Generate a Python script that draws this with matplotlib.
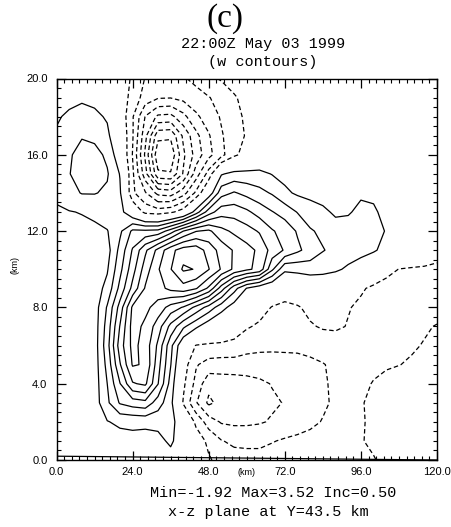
import numpy as np
import matplotlib
matplotlib.use("Agg")
import matplotlib.pyplot as plt
from matplotlib.ticker import MultipleLocator, FormatStrFormatter

# ---------------- data ----------------
x_km = [0, 4, 8, 12, 16, 20, 24, 28, 32, 36, 40, 44, 48, 52, 56, 60,
        64, 68, 72, 76, 80, 84, 88, 92, 96, 100, 104, 108, 112, 116, 120]
z_km = list(range(0, 21))

# w on the x-z plane, one list per height (in contour-level units)
w_z00 = [0.2, 0.2, 0.2, 0.2, 0.2, 0.3, 0.4, 0.5, 0.5, 0.55, 0.2, -0.3, -0.9, -1.3, -1.6, -1.7, -1.7, -1.6, -1.5, -1.45, -1.4, -1.35, -1.3, -1.2, -1.1, -1.05, -0.8, -0.6, -0.5, -0.4, -0.3]
w_z01 = [0.3, 0.35, 0.4, 0.4, 0.5, 0.6, 0.75, 0.6, 0.7, 1.2, 0.3, -0.5, -1.2, -1.95, -2.2, -2.2, -2.2, -2.05, -1.9, -1.8, -1.7, -1.55, -1.4, -1.25, -1.05, -0.85, -0.7, -0.55, -0.45, -0.35, -0.3]
w_z02 = [0.3, 0.4, 0.45, 0.5, 0.95, 1.2, 1.2, 1.25, 1.3, 1.4, 0.2, -1.2, -2.5, -3.1, -3.2, -3.2, -3.1, -2.9, -2.6, -2.4, -2.2, -1.95, -1.7, -1.45, -1.05, -0.9, -0.75, -0.6, -0.5, -0.4, -0.35]
w_z03 = [0.3, 0.4, 0.45, 0.5, 1.8, 3.1, 3.5, 3.7, 2.5, 1.3, -1.1, -2.9, -4.2, -3.7, -3.5, -3.4, -3.3, -3.15, -2.95, -2.7, -2.4, -2.15, -1.85, -1.55, -1.05, -0.85, -0.7, -0.6, -0.5, -0.45, -0.4]
w_z04 = [0.3, 0.4, 0.45, 0.5, 2.0, 3.95, 5.9, 6.2, 4.05, 1.6, -0.8, -2.3, -3.7, -3.5, -3.45, -3.35, -3.2, -2.95, -2.75, -2.55, -2.35, -2.1, -1.85, -1.5, -1.2, -0.95, -0.75, -0.6, -0.5, -0.45, -0.4]
w_z05 = [0.3, 0.4, 0.45, 0.5, 2.3, 4.9, 7.1, 6.9, 4.4, 2.05, -0.5, -1.9, -2.4, -2.5, -2.5, -2.5, -2.45, -2.4, -2.35, -2.3, -2.2, -2.05, -1.8, -1.55, -1.35, -1.2, -1.1, -1.02, -0.9, -0.8, -0.75]
w_z06 = [0.3, 0.4, 0.45, 0.5, 2.6, 5.5, 7.3, 6.6, 4.8, 2.3, 0.05, -1.05, -1.15, -1.15, -1.2, -1.6, -1.75, -1.8, -1.8, -1.8, -1.7, -1.55, -1.5, -1.45, -1.4, -1.35, -1.3, -1.2, -1.1, -0.95, -0.85]
w_z07 = [0.3, 0.4, 0.45, 0.5, 2.4, 5.05, 7.4, 6.8, 5.5, 3.7, 2.2, 1.2, 0.3, -0.2, -0.6, -0.9, -1.15, -1.3, -1.35, -1.3, -1.1, -0.9, -0.85, -1.05, -1.2, -1.3, -1.3, -1.25, -1.2, -1.1, -0.95]
w_z08 = [0.3, 0.4, 0.45, 0.5, 2.1, 4.4, 7.2, 7.25, 6.6, 5.6, 4.9, 3.7, 2.6, 1.4, 0.5, -0.1, -0.6, -1.05, -1.3, -1.1, -0.75, -0.55, -0.7, -0.95, -1.15, -1.3, -1.4, -1.45, -1.45, -1.4, -1.35]
w_z09 = [0.35, 0.4, 0.45, 0.5, 1.3, 3.3, 5.3, 7.1, 7.6, 8.3, 8.6, 8.1, 6.8, 4.5, 2.4, 0.95, 0.3, -0.1, -0.3, -0.2, -0.15, -0.1, -0.3, -0.6, -0.9, -1.15, -1.35, -1.45, -1.5, -1.5, -1.45]
w_z10 = [0.4, 0.45, 0.5, 0.55, 0.9, 2.7, 4.6, 6.5, 7.9, 8.95, 10.15, 9.95, 9.05, 7.9, 6.8, 6.2, 5.7, 3.2, 1.2, 1.3, 1.5, 1.4, 1.2, 0.8, 0.3, -0.3, -0.7, -1.02, -1.1, -1.15, -1.3]
w_z11 = [0.5, 0.5, 0.5, 0.6, 0.6, 2.3, 4.1, 5.8, 7.3, 8.7, 9.5, 9.6, 8.6, 7.6, 6.9, 6.35, 5.8, 4.6, 3.9, 3.2, 2.6, 2.05, 1.75, 1.6, 1.45, 1.15, 0.6, 0.3, 0.02, -0.2, -0.4]
w_z12 = [0.6, 0.6, 0.7, 0.75, 0.95, 1.8, 3.2, 3.2, 3.3, 4.5, 6.0, 6.95, 7.2, 6.3, 5.8, 5.4, 4.9, 4.1, 3.6, 2.9, 2.1, 1.8, 1.4, 1.45, 1.55, 1.3, 0.95, 0.5, 0.3, 0.2, 0.1]
w_z13 = [0.8, 0.95, 1.05, 1.25, 1.55, 1.4, 0.05, -1.3, -1.5, -1.2, -0.5, 1.5, 3.5, 4.6, 4.6, 4.2, 3.6, 3.05, 2.6, 1.95, 1.5, 1.2, 0.85, 0.9, 1.25, 1.15, 0.7, 0.45, 0.3, 0.2, 0.15]
w_z14 = [1.3, 1.7, 2.05, 2.05, 1.85, 1.15, -1.8, -2.9, -4.3, -4.5, -3.4, -1.8, 0.3, 2.6, 3.1, 2.7, 2.3, 1.9, 1.2, 0.85, 0.7, 0.6, 0.55, 0.6, 0.85, 0.8, 0.5, 0.4, 0.3, 0.2, 0.15]
w_z15 = [1.6, 1.95, 2.55, 2.45, 2.1, 0.95, -1.8, -4.6, -7.8, -7.9, -5.9, -3.5, -1.6, 0.9, 1.3, 1.3, 1.3, 0.95, 0.7, 0.45, 0.3, 0.2, 0.2, 0.2, 0.2, 0.2, 0.2, 0.2, 0.2, 0.2, 0.2]
w_z16 = [1.5, 1.85, 2.45, 2.35, 1.8, 0.3, -2.05, -5.2, -8.8, -8.8, -6.2, -4.6, -3.3, -2.3, -1.2, -0.6, -0.2, 0.1, 0.1, 0.05, 0.05, 0.05, 0.05, 0.05, 0.05, 0.05, 0.05, 0.05, 0.05, 0.05, 0.05]
w_z17 = [1.1, 1.6, 1.9, 1.75, 1.2, 0.1, -1.9, -4.7, -7.7, -7.8, -5.8, -4.3, -3.1, -2.1, -1.45, -0.9, -0.5, -0.2, 0.02, 0.02, 0.02, 0.02, 0.02, 0.02, 0.02, 0.02, 0.02, 0.02, 0.02, 0.02, 0.02]
w_z18 = [0.9, 1.15, 1.35, 1.2, 0.9, -0.2, -1.9, -4.05, -5.2, -5.3, -4.3, -3.2, -2.5, -1.9, -1.35, -0.8, -0.4, -0.2, -0.05, -0.05, -0.05, -0.05, -0.05, -0.05, -0.05, -0.05, -0.05, -0.05, -0.05, -0.05, -0.05]
w_z19 = [0.5, 0.75, 0.85, 0.75, 0.35, -0.3, -1.4, -2.4, -2.9, -2.95, -2.7, -2.35, -2.05, -1.65, -1.1, -0.7, -0.4, -0.2, -0.05, -0.05, -0.05, -0.05, -0.05, -0.05, -0.05, -0.05, -0.05, -0.05, -0.05, -0.05, -0.05]
w_z20 = [0.3, 0.4, 0.4, 0.3, 0.1, -0.4, -1.15, -2.05, -2.35, -2.4, -2.1, -1.75, -1.2, -0.9, -0.6, -0.4, -0.25, -0.15, -0.05, -0.05, -0.05, -0.05, -0.05, -0.05, -0.05, -0.05, -0.05, -0.05, -0.05, -0.05, -0.05]

neg_levels = [-8, -7, -6, -5, -4, -3, -2, -1]
pos_levels = [1, 2, 3, 4, 5, 6, 7, 8, 9, 10]

# lowest-level line near the ground
ground_x = [0.0, 120.0]
ground_z = [0.2, 0.0]

x_ticks = [0, 24, 48, 72, 96, 120]
z_ticks = [0, 4, 8, 12, 16, 20]

panel_label = "(c)"
time_label = "22:00Z May 03 1999"
field_label = "(w contours)"
stats_label = "Min=-1.92 Max=3.52 Inc=0.50"
plane_label = "x-z plane at Y=43.5 km"
unit_label = "(km)"

# ---------------- figure ----------------
W_PX, H_PX = 451, 527
plt.rcParams["lines.dashed_pattern"] = [3.6, 2.2]
fig = plt.figure(figsize=(W_PX / 100, H_PX / 100), dpi=100)

ax_l, ax_r, ax_t, ax_b = 56.5, 437.0, 78.5, 460.0
ax = fig.add_axes([ax_l / W_PX, 1 - ax_b / H_PX,
                   (ax_r - ax_l) / W_PX, (ax_b - ax_t) / H_PX])

W = np.array([w_z00, w_z01, w_z02, w_z03, w_z04, w_z05, w_z06, w_z07,
              w_z08, w_z09, w_z10, w_z11, w_z12, w_z13, w_z14, w_z15,
              w_z16, w_z17, w_z18, w_z19, w_z20])

ax.contour(x_km, z_km, W, levels=pos_levels, colors="k",
           linewidths=0.9, linestyles="solid")
ax.contour(x_km, z_km, W, levels=neg_levels, colors="k",
           linewidths=0.9, linestyles="dashed")
ax.plot(ground_x, ground_z, color="k", lw=0.9)

ax.set_xlim(0, 120)
ax.set_ylim(0, 20)
ax.set_xticks(x_ticks)
ax.set_yticks(z_ticks)
ax.xaxis.set_minor_locator(MultipleLocator(2.4))
ax.yaxis.set_minor_locator(MultipleLocator(0.5))
ax.xaxis.set_major_formatter(FormatStrFormatter("%.1f"))
ax.yaxis.set_major_formatter(FormatStrFormatter("%.1f"))
ax.tick_params(which="both", direction="in", top=True, right=True,
               labelsize=8, color="k")
ax.tick_params(which="major", length=6.5, width=0.9)
ax.tick_params(which="minor", length=3.2, width=0.8)
ax.tick_params(axis="x", pad=5)
ax.tick_params(axis="y", pad=6.5)
for lab in ax.get_xticklabels() + ax.get_yticklabels():
    lab.set_family("Liberation Sans")
for sp in ax.spines.values():
    sp.set_linewidth(1.0)

ax.text(0.5, (ax_b - 472.5) / (ax_b - ax_t), unit_label, transform=ax.transAxes,
        ha="center", va="center", fontsize=6.5, family="Liberation Sans")
fig.text(15 / W_PX, 1 - 265 / H_PX, unit_label, rotation=90, ha="center",
         va="center", fontsize=6.5, family="Liberation Sans")

def ftext(xp, yp, s, **kw):
    fig.text(xp / W_PX, 1 - yp / H_PX, s, ha="center", va="center", **kw)

ftext(225, 19, panel_label, fontsize=24, family="Liberation Serif")
ftext(263, 44, time_label, fontsize=10.9, family="Liberation Mono")
ftext(262.5, 62, field_label, fontsize=10.9, family="Liberation Mono")
ftext(273, 493, stats_label, fontsize=10.9, family="Liberation Mono")
ftext(268, 512, plane_label, fontsize=10.9, family="Liberation Mono")

fig.savefig("out.png", dpi=100)
